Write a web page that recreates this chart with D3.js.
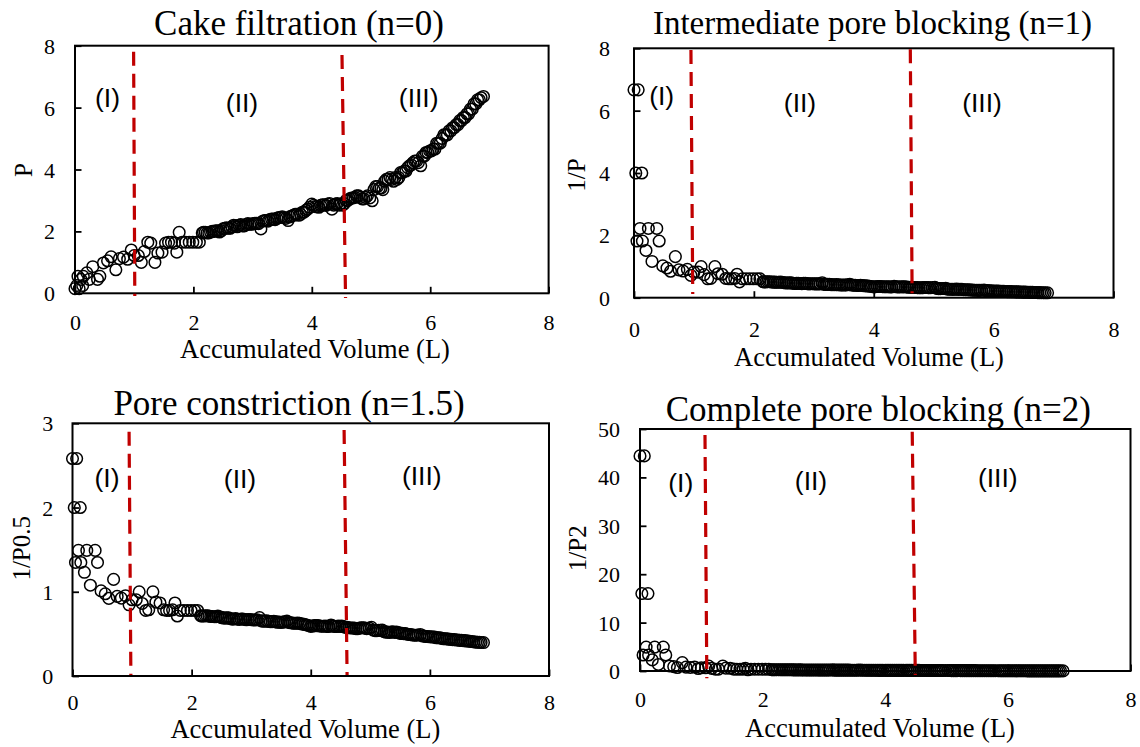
<!DOCTYPE html>
<html><head><meta charset="utf-8">
<script src="https://cdn.jsdelivr.net/npm/d3@7"></script>
<style>body{margin:0;background:#fff}svg{display:block}</style>
</head><body>
<svg id="chart" width="1140" height="747"></svg>
<script>
// ---------------- DATA ----------------
const volume = [
0.00,0.07,0.03,0.13,0.10,0.24,0.38,0.05,0.14,0.42,0.20,0.30,0.48,0.55,0.61,0.69,0.75,0.82,0.89,0.95,1.00,
1.07,1.12,1.17,1.23,1.28,1.35,1.40,1.47,1.53,1.58,1.63,1.68,1.72,1.76,1.81,1.87,1.93,1.99,2.05,2.10,
2.15,2.20,2.26,2.32,2.38,2.44,2.50,2.56,2.62,2.68,2.74,2.80,2.86,2.92,2.98,3.04,3.10,3.14,3.20,3.26,
3.32,3.38,3.44,3.50,3.56,3.60,3.66,3.72,3.78,3.84,3.90,3.96,4.00,4.06,4.12,4.18,4.24,4.30,4.34,4.40,4.46,4.52,
4.58,4.64,4.70,4.76,4.82,4.88,4.94,5.02,5.08,5.14,5.20,5.26,5.32,5.38,5.44,5.50,5.56,5.62,5.68,5.74,
5.80,5.84,5.90,5.96,6.02,6.08,6.14,6.20,6.26,6.32,6.38,6.44,6.50,6.56,6.62,6.68,6.74,6.80,6.86,6.90,
2.17,2.23,2.29,2.35,2.41,2.47,2.53,2.59,2.65,2.71,2.77,2.83,2.89,2.95,3.01,3.07,
3.17,3.23,3.29,3.35,3.41,3.47,3.53,3.63,3.69,3.75,3.81,3.87,3.93,4.03,4.09,4.15,4.21,4.27,
4.37,4.43,4.49,4.55,4.61,4.67,4.73,4.79,4.85,4.91,4.98,
5.05,5.11,5.17,5.23,5.29,5.35,5.41,5.47,5.53,5.59,5.65,5.71,5.77,
5.87,5.93,5.99,6.05,6.11,6.17,6.23,6.29,6.35,6.41,6.47,6.53,6.59,6.65,6.71,6.77,6.83];

const pressure = [
0.15,0.15,0.25,0.25,0.45,0.45,0.45,0.55,0.55,0.55,0.66,0.86,0.98,1.05,1.18,0.76,1.12,1.17,1.10,1.40,1.22,
1.22,1.00,1.35,1.65,1.62,1.00,1.30,1.33,1.62,1.65,1.65,1.62,1.33,1.97,1.65,1.65,1.65,1.65,1.65,1.65,
1.95,1.97,1.95,2.00,2.02,1.98,2.08,2.12,2.10,2.20,2.15,2.22,2.18,2.25,2.23,2.26,2.25,2.08,2.35,2.33,
2.40,2.38,2.45,2.47,2.42,2.35,2.50,2.55,2.52,2.62,2.68,2.78,2.88,2.80,2.78,2.86,2.84,2.90,2.72,2.88,2.85,2.85,
3.00,3.05,3.08,3.15,3.10,3.05,3.15,2.99,3.45,3.40,3.35,3.68,3.74,3.62,3.68,3.90,3.95,4.06,4.15,4.27,
4.22,4.12,4.43,4.55,4.60,4.66,4.85,5.00,5.12,5.25,5.35,5.45,5.58,5.68,5.80,5.95,6.12,6.25,6.32,6.36,
1.97,1.95,1.98,2.00,2.02,2.02,2.10,2.10,2.15,2.18,2.20,2.18,2.22,2.23,2.25,2.26,
2.33,2.35,2.38,2.40,2.42,2.45,2.45,2.47,2.52,2.55,2.55,2.62,2.72,2.84,2.80,2.84,2.86,2.88,
2.85,2.90,2.88,2.90,3.00,3.08,3.10,3.15,3.05,3.10,3.08,
3.35,3.45,3.40,3.62,3.68,3.68,3.74,3.74,3.90,3.95,4.12,4.22,4.27,
4.43,4.55,4.60,4.66,4.85,4.85,5.12,5.12,5.25,5.35,5.45,5.58,5.68,5.80,5.95,6.12,6.25];

const invP = [
6.667,6.667,4.000,4.000,2.222,2.222,2.222,1.818,1.818,1.818,1.515,1.163,1.020,0.952,0.847,1.316,0.893,0.855,0.909,0.714,0.820,
0.820,1.000,0.741,0.606,0.617,1.000,0.769,0.752,0.617,0.606,0.606,0.617,0.752,0.508,0.606,0.606,0.606,0.606,0.606,0.606,
0.513,0.508,0.513,0.500,0.495,0.505,0.481,0.472,0.476,0.455,0.465,0.450,0.459,0.444,0.448,0.442,0.444,0.481,0.426,0.429,
0.417,0.420,0.408,0.405,0.413,0.426,0.400,0.392,0.397,0.382,0.373,0.360,0.347,0.357,0.360,0.350,0.352,0.345,0.368,0.347,0.351,0.351,
0.333,0.328,0.325,0.317,0.323,0.328,0.317,0.334,0.290,0.294,0.299,0.272,0.267,0.276,0.272,0.256,0.253,0.246,0.241,0.234,
0.237,0.243,0.226,0.220,0.217,0.215,0.206,0.200,0.195,0.190,0.187,0.183,0.179,0.176,0.172,0.168,0.163,0.160,0.158,0.157,
0.508,0.513,0.505,0.500,0.495,0.495,0.476,0.476,0.465,0.459,0.455,0.459,0.450,0.448,0.444,0.442,
0.429,0.426,0.420,0.417,0.413,0.408,0.408,0.405,0.397,0.392,0.392,0.382,0.368,0.352,0.357,0.352,0.350,0.347,
0.351,0.345,0.347,0.345,0.333,0.325,0.323,0.317,0.328,0.323,0.325,
0.299,0.290,0.294,0.276,0.272,0.272,0.267,0.267,0.256,0.253,0.243,0.237,0.234,
0.226,0.220,0.217,0.215,0.206,0.206,0.195,0.195,0.190,0.187,0.183,0.179,0.176,0.172,0.168,0.163,0.160];

const invSqrtP = [
2.582,2.582,2.000,2.000,1.491,1.491,1.491,1.348,1.348,1.348,1.231,1.078,1.010,0.976,0.921,1.147,0.945,0.925,0.953,0.845,0.905,
0.905,1.000,0.861,0.778,0.786,1.000,0.877,0.867,0.786,0.778,0.778,0.786,0.867,0.712,0.778,0.778,0.778,0.778,0.778,0.778,
0.716,0.712,0.716,0.707,0.704,0.711,0.693,0.687,0.690,0.674,0.682,0.671,0.677,0.667,0.670,0.665,0.667,0.693,0.652,0.655,
0.645,0.648,0.639,0.636,0.643,0.652,0.632,0.626,0.630,0.618,0.611,0.600,0.589,0.598,0.600,0.591,0.593,0.587,0.606,0.589,0.592,0.592,
0.577,0.573,0.570,0.563,0.568,0.573,0.563,0.578,0.538,0.542,0.546,0.521,0.517,0.526,0.521,0.506,0.503,0.496,0.491,0.484,
0.487,0.493,0.475,0.469,0.466,0.463,0.454,0.447,0.442,0.436,0.432,0.428,0.423,0.420,0.415,0.410,0.404,0.400,0.398,0.397,
0.712,0.716,0.711,0.707,0.704,0.704,0.690,0.690,0.682,0.677,0.674,0.677,0.671,0.670,0.667,0.665,
0.655,0.652,0.648,0.645,0.643,0.639,0.639,0.636,0.630,0.626,0.626,0.618,0.606,0.593,0.598,0.593,0.591,0.589,
0.592,0.587,0.589,0.587,0.577,0.570,0.568,0.563,0.573,0.568,0.570,
0.546,0.538,0.542,0.526,0.521,0.521,0.517,0.517,0.506,0.503,0.493,0.487,0.484,
0.475,0.469,0.466,0.463,0.454,0.454,0.442,0.442,0.436,0.432,0.428,0.423,0.420,0.415,0.410,0.404,0.400];

const invP2 = [
44.44,44.44,16.00,16.00,4.938,4.938,4.938,3.306,3.306,3.306,2.296,1.352,1.041,0.907,0.718,1.731,0.797,0.731,0.826,0.510,0.672,
0.672,1.000,0.549,0.367,0.381,1.000,0.592,0.565,0.381,0.367,0.367,0.381,0.565,0.258,0.367,0.367,0.367,0.367,0.367,0.367,
0.263,0.258,0.263,0.250,0.245,0.255,0.231,0.222,0.227,0.207,0.216,0.203,0.210,0.198,0.201,0.196,0.198,0.231,0.181,0.184,
0.174,0.177,0.167,0.164,0.171,0.181,0.160,0.154,0.157,0.146,0.139,0.129,0.121,0.128,0.129,0.122,0.124,0.119,0.135,0.121,0.123,0.123,
0.111,0.108,0.105,0.101,0.104,0.108,0.101,0.112,0.084,0.087,0.089,0.074,0.071,0.076,0.074,0.066,0.064,0.061,0.058,0.055,
0.056,0.059,0.051,0.048,0.047,0.046,0.043,0.040,0.038,0.036,0.035,0.034,0.032,0.031,0.030,0.028,0.027,0.026,0.025,0.025,
0.258,0.263,0.255,0.250,0.245,0.245,0.227,0.227,0.216,0.210,0.207,0.210,0.203,0.201,0.198,0.196,
0.184,0.181,0.177,0.174,0.171,0.167,0.167,0.164,0.157,0.154,0.154,0.146,0.135,0.124,0.128,0.124,0.122,0.121,
0.123,0.119,0.121,0.119,0.111,0.105,0.104,0.101,0.108,0.104,0.105,
0.089,0.084,0.087,0.076,0.074,0.074,0.071,0.071,0.066,0.064,0.059,0.056,0.055,
0.051,0.048,0.047,0.046,0.043,0.043,0.038,0.038,0.036,0.035,0.034,0.032,0.031,0.030,0.028,0.027,0.026];

const panelTitles = ["Cake filtration (n=0)", "Intermediate pore blocking (n=1)", "Pore constriction (n=1.5)", "Complete pore blocking (n=2)"];
const yTitles = ["P", "1/P", "1/P0.5", "1/P2"];
const xTitle = "Accumulated Volume (L)";
const xTicks = [0, 2, 4, 6, 8];
const yTickSets = [[0,2,4,6,8], [0,2,4,6,8], [0,1,2,3], [0,10,20,30,40,50]];
const yMax = [8, 8, 3, 50];
const regionNames = ["(I)", "(II)", "(III)"];
// boundary volume of each dashed line: [at top, at bottom]
const boundaries = [
  [[0.99,1.01],[4.51,4.57]],
  [[0.95,0.98],[4.61,4.64]],
  [[0.95,0.98],[4.56,4.61]],
  [[1.06,1.09],[4.44,4.49]]
];
const seriesList = [pressure, invP, invSqrtP, invP2];

// ---------------- LAYOUT (pixels) ----------------
const layout = [
  {left:75, right:548.6, top:45.7, bottom:293.3, titleX:299, titleY:35, titleSize:35,
   xTitleX:315, xTitleY:358, xTickY:330, yTickRight:55, yTitleX:31.5, yTitleY:170,
   region:[[107.5,107],[242,111.7],[418.7,107.3]], dashY:[[51.7,296],[55,298]]},
  {left:634, right:1113.5, top:48.3, bottom:297.7, titleX:872.5, titleY:33.5, titleSize:33,
   xTitleX:869, xTitleY:366, xTickY:337, yTickRight:610, yTitleX:585, yTitleY:175,
   region:[[661.7,105],[800,111.7],[982,111.7]], dashY:[[50,294],[49.3,293.3]]},
  {left:72.5, right:549, top:423.3, bottom:676, titleX:289, titleY:415, titleSize:35,
   xTitleX:305.4, xTitleY:738, xTickY:710, yTickRight:53.3, yTitleX:29.5, yTitleY:548.3,
   region:[[107,486.7],[240,488.3],[421.8,485]], dashY:[[431.7,675],[430,675]]},
  {left:640, right:1130.5, top:429, bottom:671, titleX:878.3, titleY:420.5, titleSize:35,
   xTitleX:880, xTitleY:736.7, xTickY:706.7, yTickRight:620, yTitleX:586, yTitleY:548.3,
   region:[[680.8,491.7],[811,490],[997.8,486.7]], dashY:[[435,678.3],[431.7,675]]}
];

const SERIF = "'Liberation Serif','Times New Roman',serif";
const SANS = "'Liberation Sans',Arial,sans-serif";
const svg = d3.select("#chart");

seriesList.forEach((series, i) => {
  const L = layout[i];
  const x = d3.scaleLinear().domain([0, 8]).range([L.left, L.right]);
  const y = d3.scaleLinear().domain([0, yMax[i]]).range([L.bottom, L.top]);
  const g = svg.append("g");

  // x axis
  const xa = g.append("g").attr("transform", `translate(0,${L.bottom})`)
    .call(d3.axisBottom(x).tickValues(xTicks).tickSizeInner(-6.5).tickSizeOuter(0).tickFormat(d3.format("d")));
  xa.select(".domain").remove();
  xa.selectAll(".tick line").attr("stroke", "#000").attr("stroke-width", 1.8);
  xa.selectAll(".tick text").attr("y", L.xTickY - L.bottom).attr("dy", 0)
    .attr("fill", "#000").style("font-family", SERIF).style("font-size", "22px");

  // y axis
  const ya = g.append("g").attr("transform", `translate(${L.left},0)`)
    .call(d3.axisLeft(y).tickValues(yTickSets[i]).tickSizeInner(-6.5).tickSizeOuter(0).tickFormat(d3.format("d")));
  ya.select(".domain").remove();
  ya.selectAll(".tick line").attr("stroke", "#000").attr("stroke-width", 1.8);
  ya.selectAll(".tick text").attr("x", L.yTickRight - L.left).attr("dy", "7.5px")
    .attr("fill", "#000").style("font-family", SERIF).style("font-size", "22px");

  // plot box
  g.append("rect").attr("x", L.left).attr("y", L.top)
    .attr("width", L.right - L.left).attr("height", L.bottom - L.top)
    .attr("fill", "none").attr("stroke", "#000").attr("stroke-width", 2);

  // points
  g.append("g").selectAll("circle").data(volume.map((v, k) => [v, series[k]]))
    .join("circle")
    .attr("cx", d => x(d[0])).attr("cy", d => y(d[1])).attr("r", 5.8)
    .attr("fill", "none").attr("stroke", "#000").attr("stroke-width", 1.5);

  // dashed boundaries
  boundaries[i].forEach((b, j) => {
    g.append("line")
      .attr("x1", x(b[0])).attr("x2", x(b[1]))
      .attr("y1", L.dashY[j][0]).attr("y2", L.dashY[j][1])
      .attr("stroke", "#c00000").attr("stroke-width", 3.2)
      .attr("stroke-dasharray", "14,8");
  });

  // region labels
  regionNames.forEach((r, j) => {
    g.append("text").attr("x", L.region[j][0]).attr("y", L.region[j][1])
      .attr("text-anchor", "middle").style("font-family", SANS).style("font-size", "26.5px")
      .attr("fill", "#000").text(r);
  });

  // title
  g.append("text").attr("x", L.titleX).attr("y", L.titleY).attr("text-anchor", "middle")
    .style("font-family", SERIF).style("font-size", L.titleSize + "px").attr("fill", "#000")
    .text(panelTitles[i]);

  // x title
  g.append("text").attr("x", L.xTitleX).attr("y", L.xTitleY).attr("text-anchor", "middle")
    .style("font-family", SERIF).style("font-size", "26.5px").attr("fill", "#000")
    .text(xTitle);

  // y title
  g.append("text").attr("transform", `translate(${L.yTitleX},${L.yTitleY}) rotate(-90)`)
    .attr("text-anchor", "middle").style("font-family", SERIF).style("font-size", "25px")
    .attr("fill", "#000").text(yTitles[i]);
});
</script>
</body></html>
